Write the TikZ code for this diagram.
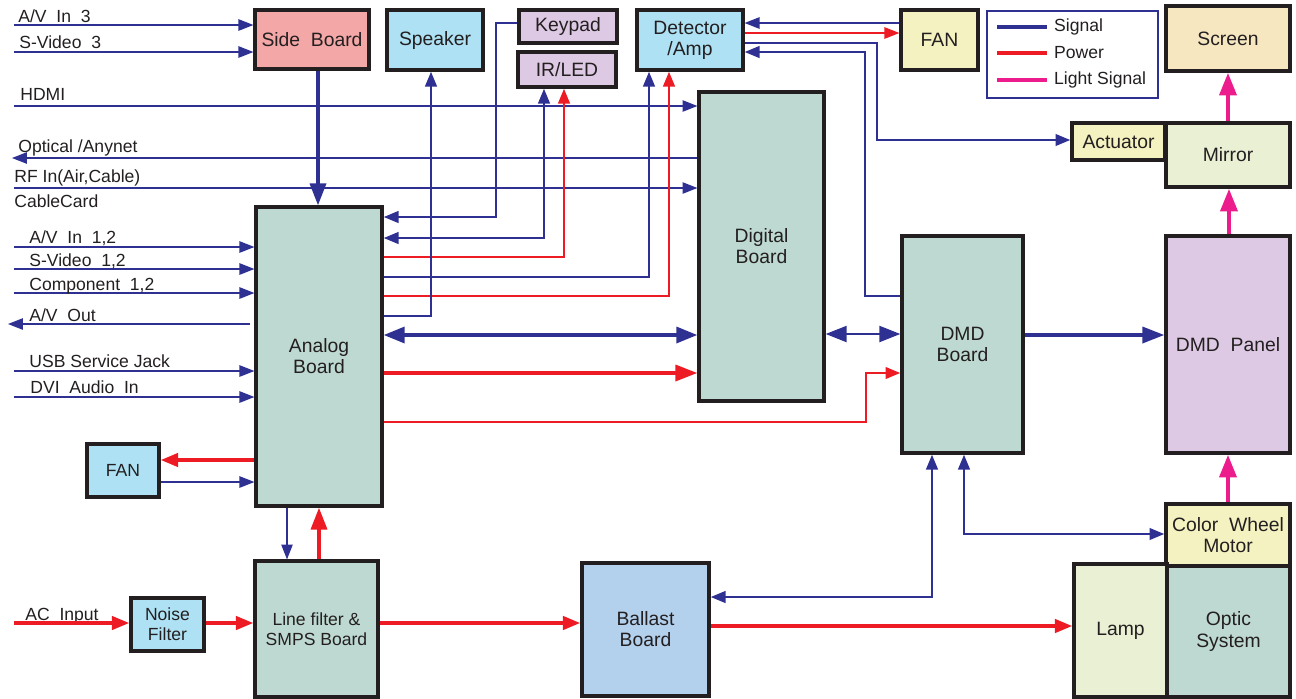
\documentclass[tikz,border=0pt]{standalone}
\usepackage{fontspec}
\setmainfont{Liberation Sans}
\usetikzlibrary{arrows.meta}
\definecolor{sigblue}{HTML}{2E3192}
\definecolor{pwrred}{HTML}{ED1C24}
\definecolor{ligpink}{HTML}{EC1C8C}
\definecolor{boxline}{HTML}{231F20}
\definecolor{txt}{HTML}{231F20}
\definecolor{cside}{HTML}{F4A7A7}
\definecolor{ccyan}{HTML}{AEE1F3}
\definecolor{clav}{HTML}{DDC9E3}
\definecolor{cyel}{HTML}{F4F2C1}
\definecolor{cscr}{HTML}{F6E7C1}
\definecolor{cmir}{HTML}{E9F0D3}
\definecolor{cgreen}{HTML}{BED9D1}
\definecolor{cball}{HTML}{B3D0EC}
\newcommand\bxf{\fontsize{11}{12}\selectfont}
\newcommand\lbf{\fontsize{10}{11.5}\selectfont}
\begin{document}
\begin{tikzpicture}[x=0.02cm,y=-0.02cm,
  box/.style={draw=boxline,line width=1.8pt,inner sep=0pt,align=center,font=\bxf,text=txt},
  lab/.style={anchor=base west,inner sep=0pt,font=\lbf,text=txt},
  sigT/.style={draw=sigblue,line width=0.7pt},
  sigM/.style={draw=sigblue,line width=1.6pt},
  sigK/.style={draw=sigblue,line width=2.2pt},
  pwrT/.style={draw=pwrred,line width=0.7pt},
  pwrM/.style={draw=pwrred,line width=1.6pt},
  pwrK/.style={draw=pwrred,line width=2.2pt},
  lig/.style={draw=ligpink,line width=2.6pt},
  aS/.style={-{Triangle[length=8.5pt,width=6.5pt]}},
  aM/.style={-{Triangle[length=10pt,width=7.5pt]}},
  aB/.style={-{Triangle[length=12.5pt,width=9pt]}},
  aP/.style={-{Triangle[length=13pt,width=9.5pt]}},
  bS/.style={{Triangle[length=8.5pt,width=6.5pt]}-{Triangle[length=8.5pt,width=6.5pt]}},
  bB/.style={{Triangle[length=12pt,width=9pt]}-{Triangle[length=12pt,width=9pt]}}]
\useasboundingbox (0,0) rectangle (1296,698);

% ---------- boxes ----------
\node[box,fill=cside,minimum width=2.28cm,minimum height=1.18cm] (side) at (312,39.5) {Side~ Board};
\node[box,fill=ccyan,minimum width=1.92cm,minimum height=1.2cm] (speaker) at (435,40) {Speaker};
\node[box,fill=clav,minimum width=1.96cm,minimum height=0.66cm] (keypad) at (568,26.5) {Keypad};
\node[box,fill=clav,minimum width=1.96cm,minimum height=0.7cm] (irled) at (567,69.5) {IR/LED};
\node[box,fill=ccyan,minimum width=2.12cm,minimum height=1.2cm] (detector) at (690,40) {Detector\\/Amp};
\node[box,fill=cyel,minimum width=1.54cm,minimum height=1.2cm] (fantop) at (939.5,40) {FAN};
\node[box,fill=cscr,minimum width=2.48cm,minimum height=1.3cm] (screen) at (1228,38.5) {Screen};
\node[box,fill=cyel,minimum width=1.86cm,minimum height=0.74cm] (actuator) at (1118.5,141.5) {Actuator};
\node[box,fill=cmir,minimum width=2.48cm,minimum height=1.28cm] (mirror) at (1228,155) {Mirror};
\node[box,fill=cgreen,minimum width=2.5cm,minimum height=6.18cm] (digital) at (761.5,246.5) {Digital\\Board};
\node[box,fill=cgreen,minimum width=2.52cm,minimum height=5.98cm] (analog) at (319,356.5) {Analog\\Board};
\node[box,fill=cgreen,minimum width=2.42cm,minimum height=4.34cm] (dmd) at (962.5,344.5) {DMD\\Board};
\node[box,fill=clav,minimum width=2.48cm,minimum height=4.34cm] (panel) at (1228,344.5) {DMD~ Panel};
\node[box,fill=cyel,minimum width=2.48cm,minimum height=1.24cm] (cw) at (1228,535) {Color~ Wheel\\Motor};
\node[box,fill=cmir,minimum width=1.86cm,minimum height=2.66cm] (lamp) at (1120.5,630.5) {Lamp};
\node[box,fill=cgreen,minimum width=2.46cm,minimum height=2.62cm] (optic) at (1228.5,631.5) {Optic\\System};
\node[box,fill=cball,minimum width=2.54cm,minimum height=2.66cm] (ballast) at (645.5,629.5) {Ballast\\Board};
\node[box,fill=cgreen,minimum width=2.46cm,minimum height=2.72cm,font=\lbf] (smps) at (316.5,629) {Line filter \&\\SMPS Board};
\node[box,fill=ccyan,minimum width=1.46cm,minimum height=1.06cm,font=\lbf] (noise) at (167.5,624.5) {Noise\\Filter};
\node[box,fill=ccyan,minimum width=1.44cm,minimum height=1.06cm,font=\lbf] (fanleft) at (123,470.5) {FAN};

% ---------- legend ----------
\draw[draw=sigblue,line width=1.2pt] (987,11) rectangle (1158,98);
\coordinate (lg1) at (997,27); \coordinate (lg2) at (997,53); \coordinate (lg3) at (997,80);
\draw[sigK] (lg1) -- ++(50,0) node[lab,anchor=west,xshift=3pt] (lgt1) {Signal};
\draw[pwrK] (lg2) -- ++(50,0) node[lab,anchor=west,xshift=3pt] (lgt2) {Power};
\draw[lig,line width=2.2pt] (lg3) -- ++(50,0) node[lab,anchor=west,xshift=3pt] (lgt3) {Light Signal};

% ---------- left inputs ----------
\coordinate (iAV3) at (14,25);
\coordinate (iSV3) at (14,52);
\coordinate (iHDMI) at (14,106);
\coordinate (iOPT) at (12,158);
\coordinate (iRF) at (14,188);
\coordinate (iAV12) at (14,247);
\coordinate (iSV12) at (14,269);
\coordinate (iCMP) at (14,293);
\coordinate (oAVs) at (250,324);
\coordinate (oAVe) at (8,324);
\coordinate (iUSB) at (14,371);
\coordinate (iDVI) at (14,397);
\coordinate (iAC) at (14,623);

\draw[sigT,aS] (iAV3) -- (iAV3 -| side.west);
\draw[sigT,aS] (iSV3) -- (iSV3 -| side.west);
\draw[sigT,aS] (iHDMI) -- (iHDMI -| digital.west);
\draw[sigT,aS] (iOPT -| digital.west) -- (iOPT);
\draw[sigT,aS] (iRF) -- (iRF -| digital.west);
\draw[sigT,aS] (iAV12) -- (iAV12 -| analog.west);
\draw[sigT,aS] (iSV12) -- (iSV12 -| analog.west);
\draw[sigT,aS] (iCMP) -- (iCMP -| analog.west);
\draw[sigT,aS] (oAVs) -- (oAVe);
\draw[sigT,aS] (iUSB) -- (iUSB -| analog.west);
\draw[sigT,aS] (iDVI) -- (iDVI -| analog.west);

\node[lab] (t1) at (18,22) {A/V~ In~ 3};
\node[lab] (t2) at (19,48) {S-Video~ 3};
\node[lab] (t3) at (20,100) {HDMI};
\node[lab] (t4) at (18,152) {Optical /Anynet};
\node[lab] (t5) at (14,182) {RF In(Air,Cable)};
\node[lab] (t6) at (14,207) {CableCard};
\node[lab] (t7) at (29,243) {A/V~ In~ 1,2};
\node[lab] (t8) at (29,266) {S-Video~ 1,2};
\node[lab] (t9) at (29,290) {Component~ 1,2};
\node[lab] (t10) at (29,321) {A/V~ Out};
\node[lab] (t11) at (29,367) {USB Service Jack};
\node[lab] (t12) at (30,393) {DVI~ Audio~ In};
\node[lab] (t13) at (25,620) {AC~ Input};

% ---------- side board / fan / smps ----------
\draw[sigK,aB] (side.south -| 318,0) -- (analog.north -| 318,0);
\draw[pwrK,aM] (analog.west |- 0,460) -- (fanleft.east |- 0,460);
\draw[sigT,aS] (fanleft.east |- 0,482) -- (analog.west |- 0,482);
\draw[sigT,aS] (analog.south -| 287,0) -- (smps.north -| 287,0);
\draw[pwrK,aB] (smps.north -| 319,0) -- (analog.south -| 319,0);

% ---------- power chain ----------
\draw[pwrK,aM] (iAC) -- (iAC -| noise.west);
\draw[pwrK,aM] (noise.east |- 0,623) -- (smps.west |- 0,623);
\draw[pwrK,aM] (smps.east |- 0,623) -- (ballast.west |- 0,623);
\draw[pwrK,aM] (ballast.east |- 0,626) -- (lamp.west |- 0,626);

% ---------- analog right side ----------
\draw[sigM,aS] (keypad.west |- 0,23) -| (496,217) -- (analog.east |- 0,217);
\draw[sigM,bS] (analog.east |- 0,238) -| (irled.south -| 544,0);
\draw[pwrM,aS] (analog.east |- 0,257) -| (irled.south -| 564,0);
\draw[sigM,aS] (analog.east |- 0,277) -| (detector.south -| 649,0);
\draw[pwrM,aS] (analog.east |- 0,296) -| (detector.south -| 669,0);
\draw[sigM,aS] (analog.east |- 0,316) -| (speaker.south -| 431,0);
\draw[sigK,bB] (analog.east |- 0,335) -- (digital.west |- 0,335);
\draw[pwrK,aB] (analog.east |- 0,373) -- (digital.west |- 0,373);
\draw[pwrM,aS] (analog.east |- 0,422) -| (866,373) -- (dmd.west |- 0,373);

% ---------- digital / dmd ----------
\draw[sigM,bB] (digital.east |- 0,334) -- (dmd.west |- 0,334);
\draw[sigK,aB] (dmd.east |- 0,335) -- (panel.west |- 0,335);
\draw[sigM,aS] (dmd.west |- 0,296) -| (865,52) -- (detector.east |- 0,52);
\draw[sigM,aS] (detector.east |- 0,43) -| (877,140) -- (actuator.west |- 0,140);
\draw[pwrT,aS] (detector.east |- 0,33) -- (fantop.west |- 0,33);
\draw[sigT,aS] (fantop.west |- 0,23) -- (detector.east |- 0,23);
\draw[sigM,bS] (dmd.south -| 932,0) |- (ballast.east |- 0,597);
\draw[sigM,bS] (dmd.south -| 964,0) |- (cw.west |- 0,534);

% ---------- light ----------
\draw[lig,aP] (panel.north -| 1229,0) -- (mirror.south -| 1229,0);
\draw[lig,aP] (mirror.north -| 1228,0) -- (screen.south -| 1228,0);
\draw[lig,aP] (cw.north -| 1228,0) -- (panel.south -| 1228,0);
\end{tikzpicture}
\end{document}
